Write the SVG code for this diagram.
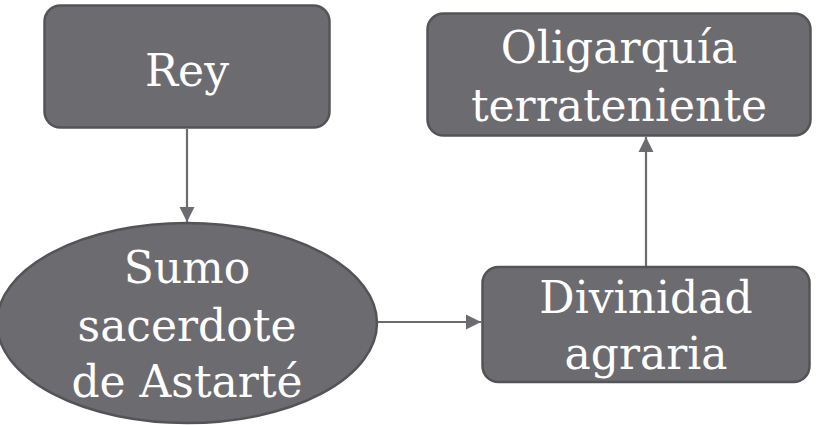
<svg xmlns="http://www.w3.org/2000/svg" width="819" height="425" viewBox="0 0 819 425">
<defs>
<style>
.node{fill:#6c6b70;stroke:#545458;stroke-width:2.5}
.lbl{font-family:"DejaVu Serif","Liberation Serif",serif;font-size:44px;fill:#ffffff;text-anchor:middle}
.conn{stroke:#6c6b70;stroke-width:2.2;fill:none}
</style>
<marker id="ah" viewBox="0 0 10 10" refX="10" refY="5" markerUnits="userSpaceOnUse" markerWidth="15" markerHeight="16" orient="auto">
<path d="M0,0 L10,5 L0,10 Z" fill="#6c6b70"/>
</marker>
</defs>
<rect width="819" height="425" fill="#ffffff"/>
<g id="connectors">
<line class="conn" x1="187" y1="129" x2="187" y2="222" marker-end="url(#ah)"/>
<line class="conn" x1="377" y1="322" x2="481" y2="322" marker-end="url(#ah)"/>
<line class="conn" x1="646" y1="266" x2="646" y2="137" marker-end="url(#ah)"/>
</g>
<g id="node-rey">
<rect class="node" x="44.5" y="5.5" width="285" height="122" rx="16"/>
<text class="lbl" x="187" y="86">Rey</text>
</g>
<g id="node-sumo">
<ellipse class="node" cx="187" cy="323" rx="190" ry="100"/>
<text class="lbl" x="187" y="283">Sumo</text>
<text class="lbl" x="187" y="341">sacerdote</text>
<text class="lbl" x="187" y="397">de Astarté</text>
</g>
<g id="node-divinidad">
<rect class="node" x="482.5" y="267" width="327" height="115" rx="16"/>
<text class="lbl" x="646" y="313">Divinidad</text>
<text class="lbl" x="646" y="369">agraria</text>
</g>
<g id="node-oligarquia">
<rect class="node" x="427.5" y="13.5" width="383" height="122" rx="16"/>
<text class="lbl" x="619" y="63">Oligarquía</text>
<text class="lbl" x="619" y="121">terrateniente</text>
</g>
</svg>
